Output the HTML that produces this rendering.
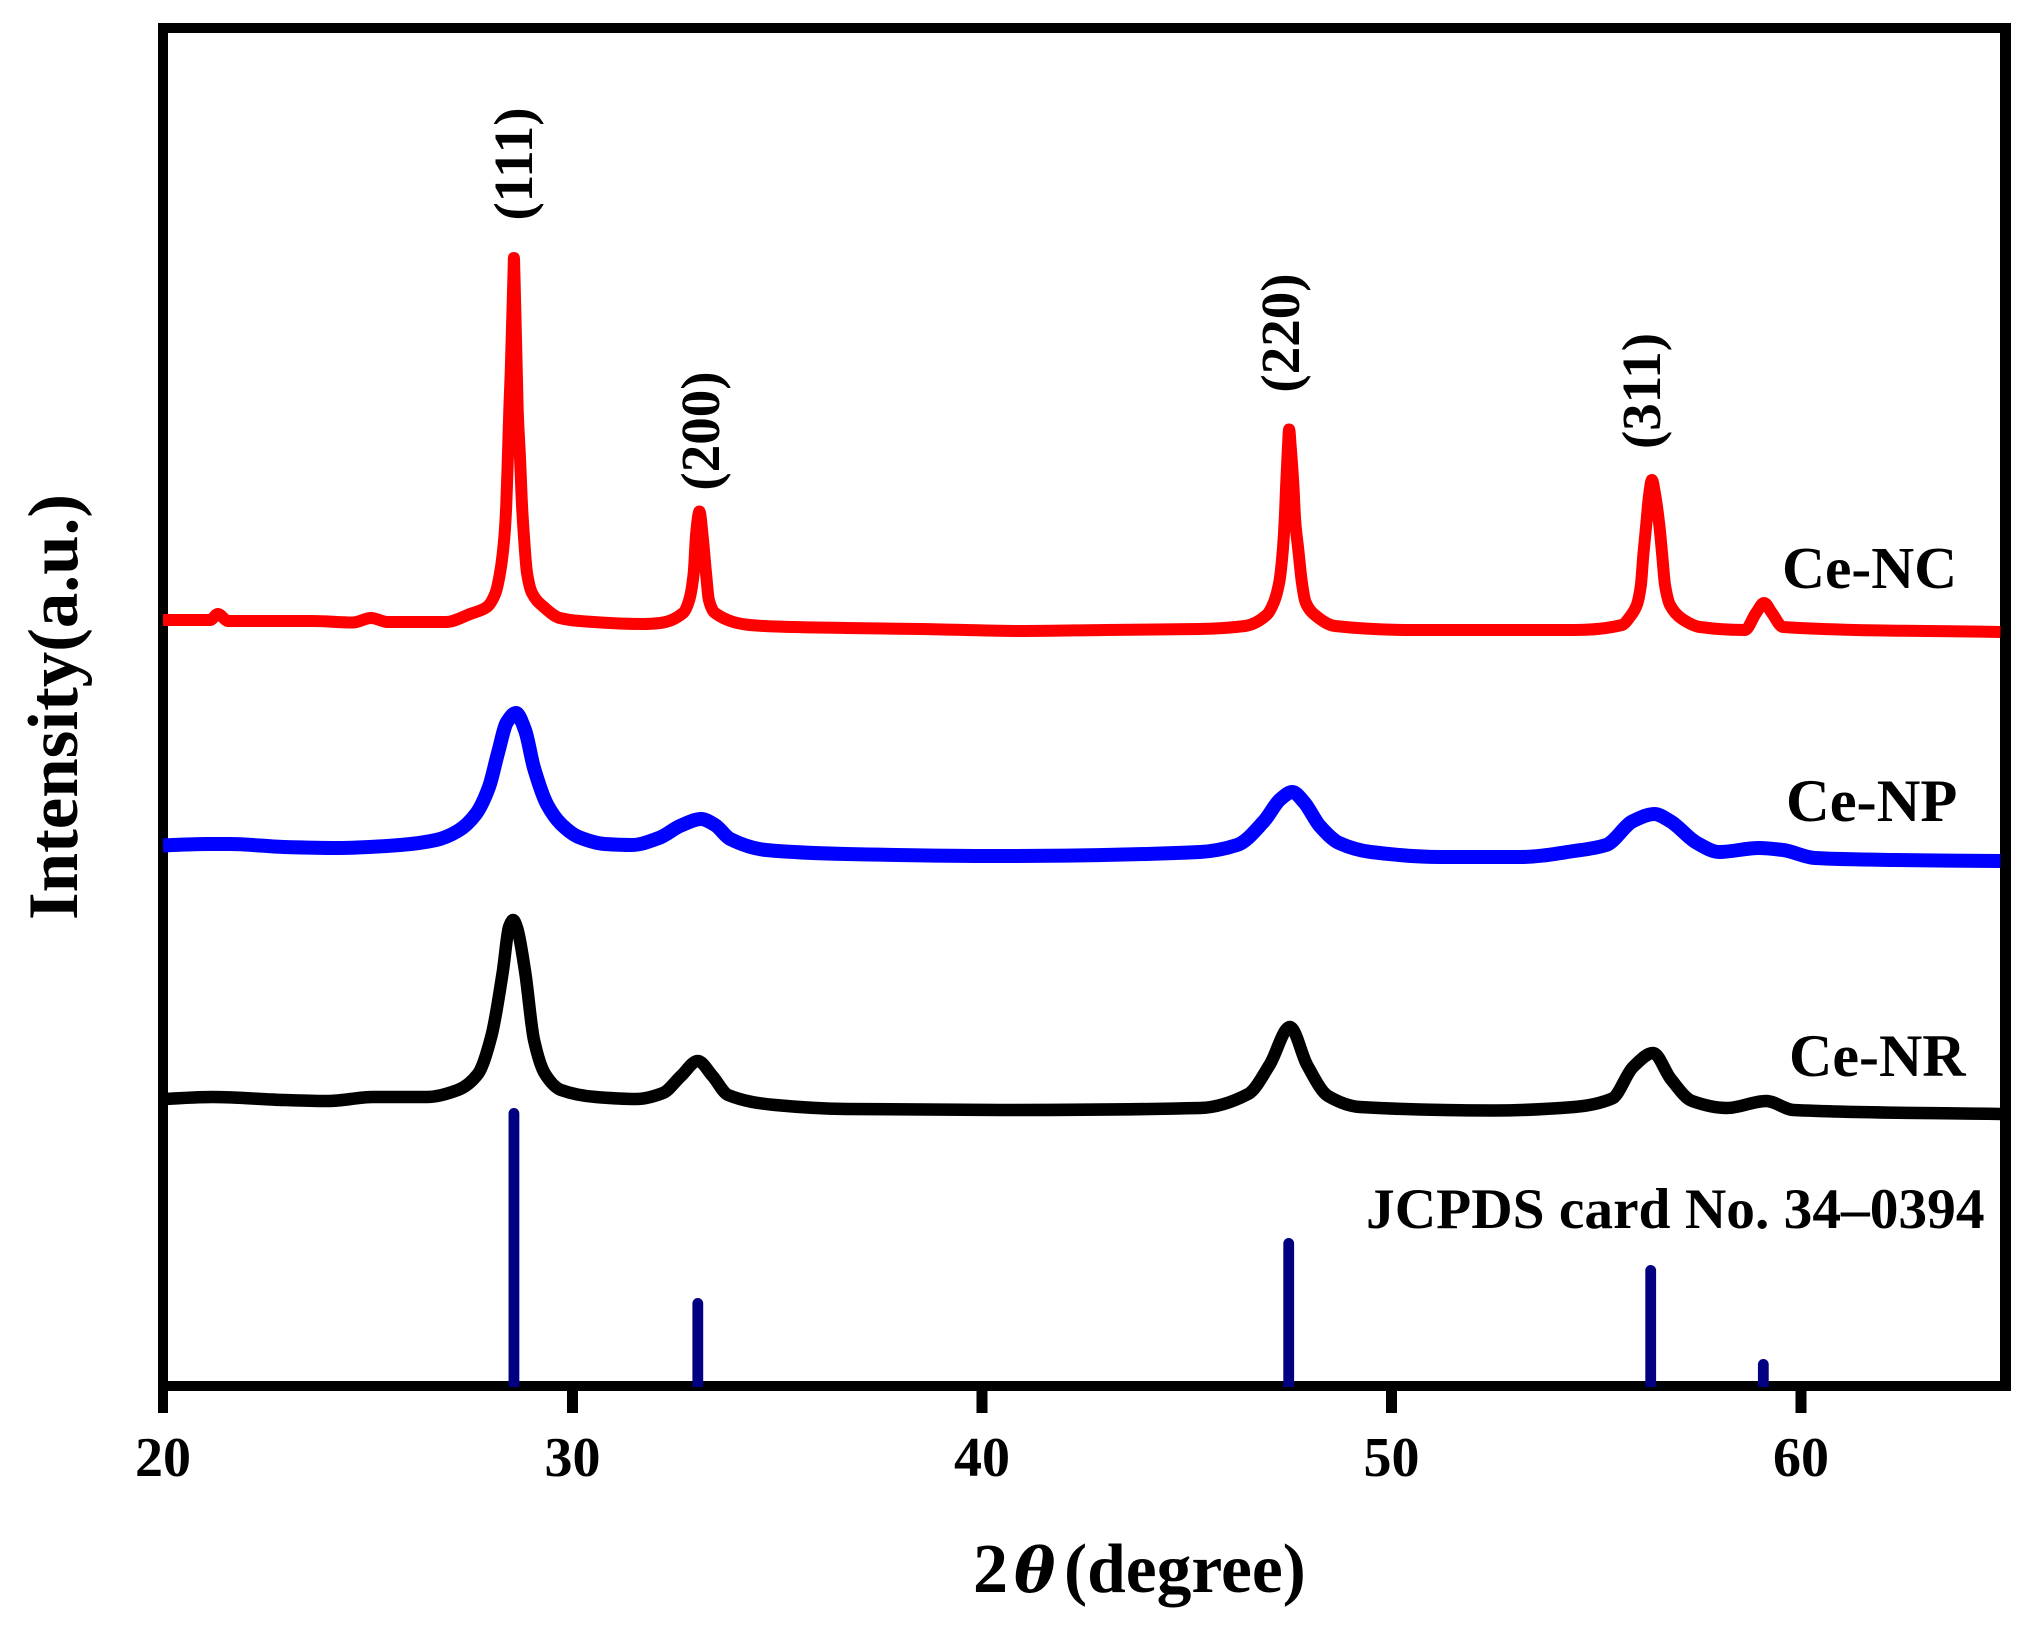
<!DOCTYPE html>
<html lang="en">
<head>
<meta charset="utf-8">
<title>XRD patterns of Ce-NC, Ce-NP and Ce-NR</title>
<style>
html,body{margin:0;padding:0;background:#fff;width:2038px;height:1626px;overflow:hidden}
svg{display:block}
text{font-family:"Liberation Serif","Times New Roman",serif;font-weight:bold;fill:#000}
</style>
</head>
<body>
<svg id="chart" xmlns="http://www.w3.org/2000/svg" width="2038" height="1626" viewBox="0 0 2038 1626">
  <path fill="#000" fill-rule="evenodd" d="M158 23H2011V1391H158Z M168 33V1381H2000V33Z"/>
  <g id="series-layer"></g>
  <g id="stick-layer"></g>
  <g id="tick-layer"></g>
  <text transform="translate(77 707) rotate(-90)" text-anchor="middle" font-size="71">Intensity(a.u.)</text>
  <text y="1592" font-size="70"><tspan x="973">2</tspan><tspan x="1014" font-style="italic" font-size="62" style="font-family:'DejaVu Serif',serif">θ</tspan><tspan x="1064" font-size="69.5">(degree)</tspan></text>
  <text transform="translate(532 164) rotate(-90)" text-anchor="middle" font-size="55">(111)</text>
  <text transform="translate(719 431) rotate(-90)" text-anchor="middle" font-size="55">(200)</text>
  <text transform="translate(1299 333) rotate(-90)" text-anchor="middle" font-size="55">(220)</text>
  <text transform="translate(1660 391) rotate(-90)" text-anchor="middle" font-size="55">(311)</text>
  <text x="1782" y="588" font-size="59.5">Ce-NC</text>
  <text x="1786" y="821" font-size="60.5">Ce-NP</text>
  <text x="1789" y="1076" font-size="60">Ce-NR</text>
  <text x="1366" y="1228" font-size="57.4">JCPDS card No. 34–0394</text>
</svg>
<script>
const xTicks = [20, 30, 40, 50, 60];
const xTickLabels = ["20", "30", "40", "50", "60"];

const redTheta = [20,21.15,21.34,21.59,23.64,24.64,25.08,25.49,26.91,27.50,27.91,28.12,28.23,28.33,28.38,28.42,28.46,28.49,28.56,28.57,28.58,28.64,28.66,28.72,28.77,28.82,28.89,29.01,29.30,29.69,30.18,31.72,32.14,32.70,32.85,32.96,33.02,33.10,33.17,33.26,33.33,33.48,34.33,34.95,36.68,38.5,41,43,45.32,46.42,46.95,47.13,47.26,47.35,47.39,47.43,47.47,47.50,47.54,47.60,47.65,47.72,47.81,47.90,48.13,48.62,50.55,54.46,55.63,55.82,55.99,56.09,56.15,56.22,56.29,56.36,56.44,56.54,56.61,56.68,56.80,57.10,57.53,58.63,58.90,59.10,59.29,59.56,64.87];
const redValues = [766,766,772,765,765,763.5,768,764,764,772,779,793,813,846,879,926,979,1013,1113,1128,1113,1013,979,926,879,846,813,793,779,768,765,762,763,773,786,813,853,874.5,853,813,786,773,761,759.5,758,757,755,756,757,760,771,784,804,838,864,904,938,956.5,938,904,864,838,804,784,771,760,756,756,761,769,781,801,831,861,891,906,891,861,831,801,781,767,759,756,773,783,773,759,754];

const blueTheta = [20,21.10,21.64,22.95,24.26,25.79,26.67,27.20,27.64,27.96,28.18,28.40,28.62,28.84,29.06,29.38,29.72,30.15,30.79,31.45,32.11,32.65,33.14,33.48,33.85,34.73,36.68,40.44,45.32,46.23,46.89,47.28,47.58,47.86,48.25,48.72,49.50,51.21,53.16,54.46,55.24,55.90,56.42,56.80,57.46,58.0,58.97,59.56,60.34,62.30,64.87];
const blueValues = [540.6,542,542,539,538,541,546,555,572,599,633,664,673,656,618,581.5,562,549,542,541,548,560.5,567,561,547,536,532,530,534,541,565,586.5,594,584,560,543,534,529,529,535,541,565,572,565,543,534,538,536,528,526,525];

const blackTheta = [20,21.21,22.95,24.04,25.13,26.45,27.20,27.69,28.02,28.30,28.45,28.55,28.64,28.84,29.06,29.33,29.72,30.57,31.57,32.21,32.65,33.06,33.42,33.80,34.95,36.68,40.44,45.32,46.50,47.02,47.52,47.94,48.45,49.23,52.50,54.46,55.39,55.90,56.39,56.82,57.34,58.19,59.15,59.82,64.87];
const blackValues = [287,289,286,285,289,289,296,312,350,415,459,466,459,415,346,312,296,289,287,293,310,325,310,291,281,277,276,278,292,321,359,321,290,279,275.5,279,287.5,319,333,307,285,278,285,276,272];

const stickTheta = [28.57, 33.06, 47.49, 56.33, 59.08];
const stickValues = [278, 88, 148, 121, 27];
const stickNames = ["stick-111", "stick-200", "stick-220", "stick-311", "stick-222"];

const SVG_NS = "http://www.w3.org/2000/svg";
const xScale = function (theta) { return 163 + (theta - 20) * 40.95; };
const yScale = function (intensity) { return 1386 - intensity; };

const seriesLayer = document.getElementById("series-layer");
const stickLayer = document.getElementById("stick-layer");
const tickLayer = document.getElementById("tick-layer");

/* Monotone cubic path through the data points, so peaks stay rounded without overshoot. */
function curvePath(thetas, values) {
  const xs = thetas.map(xScale);
  const ys = values.map(yScale);
  const n = xs.length;
  const h = [];
  const d = [];
  for (let i = 0; i < n - 1; i++) {
    h.push(xs[i + 1] - xs[i]);
    d.push((ys[i + 1] - ys[i]) / h[i]);
  }
  const m = [d[0]];
  for (let i = 1; i < n - 1; i++) {
    if (d[i - 1] * d[i] <= 0) {
      m.push(0);
    } else {
      const w1 = 2 * h[i] + h[i - 1];
      const w2 = h[i] + 2 * h[i - 1];
      m.push((w1 + w2) / (w1 / d[i - 1] + w2 / d[i]));
    }
  }
  m.push(d[n - 2]);
  let path = "M" + xs[0].toFixed(1) + " " + ys[0].toFixed(1);
  for (let i = 0; i < n - 1; i++) {
    const c1x = xs[i] + h[i] / 3;
    const c1y = ys[i] + m[i] * h[i] / 3;
    const c2x = xs[i + 1] - h[i] / 3;
    const c2y = ys[i + 1] - m[i + 1] * h[i] / 3;
    path += " C" + c1x.toFixed(1) + " " + c1y.toFixed(1) + " " + c2x.toFixed(1) + " " + c2y.toFixed(1) + " " + xs[i + 1].toFixed(1) + " " + ys[i + 1].toFixed(1);
  }
  return path;
}

const blackLine = document.createElementNS(SVG_NS, "path");


blackLine.setAttribute("d", curvePath(blackTheta, blackValues));
blackLine.setAttribute("fill", "none");
blackLine.setAttribute("stroke", "#000");
blackLine.setAttribute("stroke-width", 12.5);
blackLine.setAttribute("stroke-linejoin", "round");
seriesLayer.appendChild(blackLine);

const blueLine = document.createElementNS(SVG_NS, "path");


blueLine.setAttribute("d", curvePath(blueTheta, blueValues));
blueLine.setAttribute("fill", "none");
blueLine.setAttribute("stroke", "#0000ff");
blueLine.setAttribute("stroke-width", 14);
blueLine.setAttribute("stroke-linejoin", "round");
seriesLayer.appendChild(blueLine);

const redLine = document.createElementNS(SVG_NS, "path");


redLine.setAttribute("d", curvePath(redTheta, redValues));
redLine.setAttribute("fill", "none");
redLine.setAttribute("stroke", "#ff0000");
redLine.setAttribute("stroke-width", 12);
redLine.setAttribute("stroke-linejoin", "round");
seriesLayer.appendChild(redLine);

stickTheta.forEach(function (t, i) {
  const stick = document.createElementNS(SVG_NS, "path");
  
  
  const cx = xScale(t);
  const top = yScale(stickValues[i]);
  const r = 5.4;
  stick.setAttribute("d", "M" + (cx - r) + " 1387 L" + (cx - r) + " " + (top + r) + " A" + r + " " + r + " 0 0 1 " + (cx + r) + " " + (top + r) + " L" + (cx + r) + " 1387 Z");
  stick.setAttribute("fill", "#000080");
  stickLayer.appendChild(stick);
});

xTicks.forEach(function (v, i) {
  const tick = document.createElementNS(SVG_NS, "line");
  
  
  tick.setAttribute("x1", xScale(v));
  tick.setAttribute("x2", xScale(v));
  tick.setAttribute("y1", 1386);
  tick.setAttribute("y2", 1413);
  tick.setAttribute("stroke", "#000");
  tick.setAttribute("stroke-width", i === 0 ? 10 : 11);
  tickLayer.appendChild(tick);

  const label = document.createElementNS(SVG_NS, "text");
  
  
  label.setAttribute("x", xScale(v));
  label.setAttribute("y", 1476);
  label.setAttribute("text-anchor", "middle");
  label.setAttribute("font-size", 56);
  label.textContent = xTickLabels[i];
  tickLayer.appendChild(label);
});
</script>
</body>
</html>
